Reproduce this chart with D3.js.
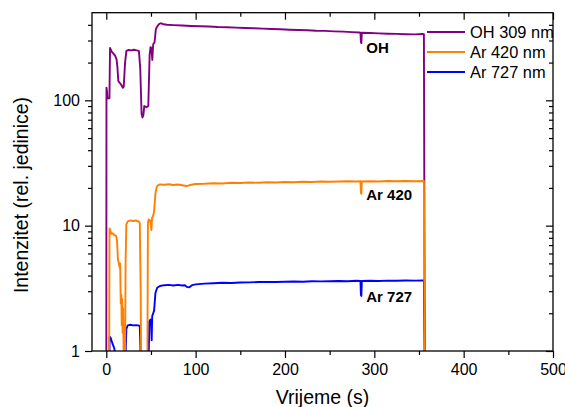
<!DOCTYPE html>
<html>
<head>
<meta charset="utf-8">
<script src="https://cdn.jsdelivr.net/npm/d3@7"></script>
<style>
  body { margin: 0; background: #fff; }
  svg { display: block; font-family: "Liberation Sans", Arial, sans-serif; }
</style>
</head>
<body>
<svg id="chart" width="565" height="407"></svg>
<script>
// ---- data ----
const seriesNames = ["OH 309 nm", "Ar 420 nm", "Ar 727 nm"];
const seriesColors = ["#800080", "#ff8000", "#0000ff"];

const ohTime = [0, 0.2, 0.8, 1.2, 3.5, 4.2, 6, 8, 10, 11.5, 12.5, 13.5, 15, 17, 18.5, 19.5, 21, 22.5, 25, 28, 31, 34, 36.5, 38, 39.5, 40.5, 41.5, 42.5, 45, 47, 48.5, 49.5, 50.5, 51.5, 52.5, 54, 55.5, 57, 59, 61, 64, 68, 75, 85, 95, 105, 115, 125, 135, 145, 155, 165, 175, 185, 195, 205, 215, 225, 235, 245, 255, 265, 275, 283, 284.5, 285, 285.5, 286, 295, 305, 315, 325, 335, 345, 354, 355.5, 356.5];
const ohValue = [0.8, 126, 118, 104, 104, 262, 245, 236, 226, 212, 182, 142, 138, 132, 126, 128, 200, 248, 252, 250, 253, 250, 248, 180, 78, 73, 76, 90, 88, 90, 230, 265, 262, 210, 280, 290, 370, 388, 405, 412, 404, 401, 398, 395, 392, 390, 388, 384, 383, 380, 378, 376, 373, 371, 369, 366, 364, 362, 359, 358, 355, 353, 350, 348, 347, 290, 286, 346, 344, 342, 340, 339, 337, 336, 338, 337, 0.8];

const ar420Time = [3.2, 3.6, 4.5, 5.5, 7, 9, 11, 12, 13, 14, 15, 15.5, 16.2, 16.8, 17.3, 17.8, 18.3, 18.8, 19.2, 19.6, 21, 21.6, 22.4, 24, 27, 30, 33, 36, 37.5, 38.5, 39, 46, 46.6, 47.5, 49, 50, 50.5, 51.2, 52.5, 53.5, 55, 56.5, 58, 60, 65, 70, 75, 80, 85, 90, 95, 100, 110, 120, 130, 140, 150, 160, 170, 180, 190, 200, 210, 220, 230, 240, 250, 260, 270, 280, 284.5, 285, 285.5, 286, 295, 305, 315, 325, 335, 345, 355.5, 356.5];
const ar420Value = [0.8, 9.5, 9.2, 8.6, 8.7, 8.4, 8.3, 7.6, 5.4, 5.0, 4.6, 5.0, 2.4, 2.8, 1.6, 2.6, 1.4, 2.2, 1.3, 0.8, 0.8, 5, 10.2, 10.8, 11, 10.9, 11, 10.8, 10.5, 3, 0.8, 0.8, 10.5, 11.2, 11.0, 9.8, 9.2, 11.5, 12, 13, 18, 20.5, 21, 21.3, 21.2, 21.4, 21.1, 21.3, 21.0, 20.7, 21.2, 21.5, 21.6, 21.8, 21.7, 22.0, 21.9, 22.1, 22.0, 22.2, 22.1, 22.3, 22.2, 22.4, 22.3, 22.5, 22.4, 22.5, 22.6, 22.5, 22.6, 18.2, 18.0, 22.5, 22.6, 22.5, 22.7, 22.6, 22.7, 22.6, 22.7, 0.8];

const ar727Time = [3.5, 3.7, 5, 6, 7.5, 9, 10, 21.5, 22.5, 24, 27, 30, 33, 36, 37.5, 38.5, 47.5, 48.2, 49.5, 50.3, 50.8, 51.4, 52.5, 53.5, 55, 57, 60, 65, 70, 75, 80, 85, 88, 90, 93, 96, 100, 110, 120, 130, 140, 150, 160, 170, 180, 190, 200, 210, 220, 230, 240, 250, 260, 270, 280, 284.5, 285, 285.5, 286, 295, 305, 315, 325, 335, 345, 355.5, 356.5];
const ar727Value = [0.9, 1.3, 1.27, 1.2, 1.12, 1.05, 0.9, 0.9, 1.5, 1.6, 1.62, 1.6, 1.61, 1.6, 1.58, 0.9, 0.9, 1.72, 1.78, 1.6, 1.22, 1.9, 2.0, 2.1, 2.9, 3.2, 3.3, 3.35, 3.37, 3.33, 3.37, 3.33, 3.35, 3.25, 3.22, 3.35, 3.4, 3.45, 3.47, 3.5, 3.49, 3.52, 3.53, 3.55, 3.56, 3.55, 3.57, 3.58, 3.57, 3.6, 3.59, 3.6, 3.62, 3.6, 3.63, 3.62, 2.8, 2.75, 3.62, 3.63, 3.62, 3.64, 3.63, 3.65, 3.64, 3.66, 0.8];

const xTicks = [0, 100, 200, 300, 400, 500];
const xMinorTicks = [50, 150, 250, 350, 450];
const yTicks = [1, 10, 100];
const yMinorTicks = [2, 3, 4, 5, 6, 7, 8, 9, 20, 30, 40, 50, 60, 70, 80, 90, 200, 300, 400];

const annotations = [
  { text: "OH", t: 291, v: 260 },
  { text: "Ar 420", t: 291, v: 17.6 },
  { text: "Ar 727", t: 291, v: 2.7 }
];

// ---- layout ----
const svg = d3.select("#chart");
const margin = { left: 92, right: 12, top: 12.7, bottom: 56 };
const W = 565, H = 407;
const x = d3.scaleLinear().domain([-16, 500]).range([margin.left, W - margin.right]);
const y = d3.scaleLog().domain([1, 500]).range([H - margin.bottom, margin.top]);

const x0 = x.range()[0], x1 = x.range()[1];
const y0 = y.range()[0], y1 = y.range()[1];

svg.append("defs").append("clipPath").attr("id", "plotClip")
  .append("rect").attr("x", x0).attr("y", y1).attr("width", x1 - x0).attr("height", y0 - y1);

// series
const series = [
  { name: seriesNames[0], color: seriesColors[0], t: ohTime, v: ohValue },
  { name: seriesNames[2], color: seriesColors[2], t: ar727Time, v: ar727Value },
  { name: seriesNames[1], color: seriesColors[1], t: ar420Time, v: ar420Value }
];
const line = d3.line().x(d => x(d[0])).y(d => y(Math.max(d[1], 0.5)));
const g = svg.append("g").attr("clip-path", "url(#plotClip)");
series.forEach(s => {
  g.append("path")
    .datum(s.t.map((t, i) => [t, s.v[i]]))
    .attr("fill", "none")
    .attr("stroke", s.color)
    .attr("stroke-width", 1.9)
    .attr("stroke-linejoin", "round")
    .attr("d", line);
});

// axes
const fontSize = "16px";
function styleAxis(sel) {
  sel.selectAll(".domain").remove();
  sel.selectAll("line").attr("stroke", "#000").attr("stroke-width", 1.2);
  sel.selectAll("text").attr("font-size", fontSize).attr("fill", "#000")
    .attr("font-family", "Liberation Sans, Arial, sans-serif");
}
// bottom
svg.append("g").attr("transform", `translate(0,${y0})`)
  .call(d3.axisBottom(x).tickValues(xTicks).tickSize(7).tickPadding(6).tickFormat(d3.format("d")))
  .call(styleAxis);
svg.append("g").attr("transform", `translate(0,${y0})`)
  .call(d3.axisBottom(x).tickValues(xMinorTicks).tickSize(4).tickFormat(""))
  .call(styleAxis);
// top (inward)
svg.append("g").attr("transform", `translate(0,${y1})`)
  .call(d3.axisBottom(x).tickValues(xTicks).tickSize(7).tickFormat(""))
  .call(styleAxis);
svg.append("g").attr("transform", `translate(0,${y1})`)
  .call(d3.axisBottom(x).tickValues(xMinorTicks).tickSize(4).tickFormat(""))
  .call(styleAxis);
// left
svg.append("g").attr("transform", `translate(${x0},0)`)
  .call(d3.axisLeft(y).tickValues(yTicks).tickSize(7).tickPadding(5).tickFormat(d3.format("d")))
  .call(styleAxis);
svg.append("g").attr("transform", `translate(${x0},0)`)
  .call(d3.axisLeft(y).tickValues(yMinorTicks).tickSize(4).tickFormat(""))
  .call(styleAxis);
// right (inward)
svg.append("g").attr("transform", `translate(${x1},0)`)
  .call(d3.axisLeft(y).tickValues(yTicks).tickSize(7).tickFormat(""))
  .call(styleAxis);
svg.append("g").attr("transform", `translate(${x1},0)`)
  .call(d3.axisLeft(y).tickValues(yMinorTicks).tickSize(4).tickFormat(""))
  .call(styleAxis);

// frame
svg.append("rect").attr("x", x0).attr("y", y1).attr("width", x1 - x0).attr("height", y0 - y1)
  .attr("fill", "none").attr("stroke", "#000").attr("stroke-width", 1.3);

// annotations
annotations.forEach(a => {
  svg.append("text").attr("x", x(a.t)).attr("y", y(a.v) + 5)
    .attr("font-size", "15px").attr("font-weight", "bold").attr("fill", "#000")
    .text(a.text);
});

// legend
const legendOrder = [0, 1, 2];
legendOrder.forEach((k, i) => {
  const ly = 32 + i * 20;
  svg.append("line").attr("x1", 427).attr("x2", 465).attr("y1", ly).attr("y2", ly)
    .attr("stroke", seriesColors[k]).attr("stroke-width", 1.8);
  svg.append("text").attr("x", 470).attr("y", ly + 5.8).attr("font-size", "16.4px").attr("fill", "#000")
    .text(seriesNames[k]);
});

// axis titles
svg.append("text").attr("x", (x0 + x1) / 2).attr("y", 404).attr("text-anchor", "middle")
  .attr("font-size", "19.5px").attr("fill", "#000").text("Vrijeme (s)");
svg.append("text").attr("transform", "translate(27.5,195) rotate(-90)").attr("text-anchor", "middle")
  .attr("font-size", "19.5px").attr("fill", "#000").text("Intenzitet (rel. jedinice)");
</script>
</body>
</html>
